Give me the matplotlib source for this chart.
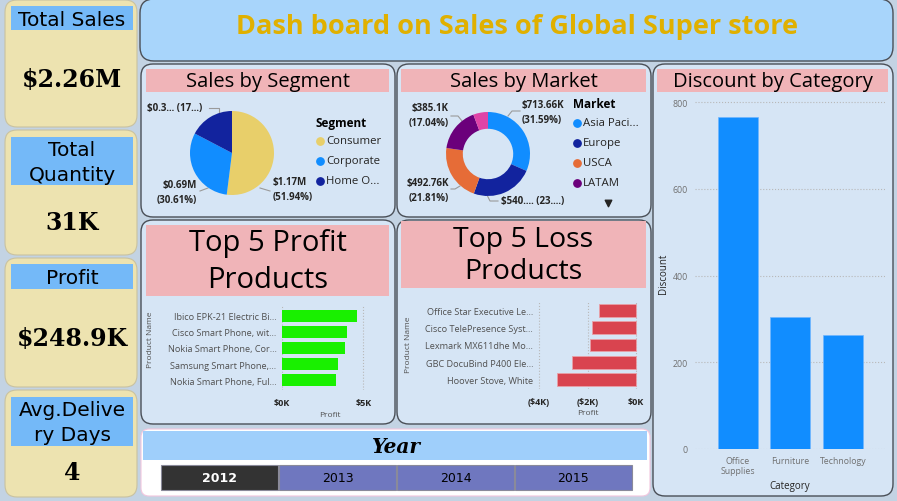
import matplotlib
matplotlib.use("Agg")
import matplotlib.pyplot as plt
import matplotlib.patches as mpatches
import numpy as np

W, H = 897, 502
SANS = "Open Sans"

# --- datos ---
kpi_titles = [["Total Sales"], ["Total", "Quantity"], ["Profit"], ["Avg.Delive", "ry Days"]]
kpi_values = ["$2.26M", "31K", "$248.9K", "4"]

seg_names = ["Consumer", "Corporate", "Home O..."]
seg_sales = [1.17, 0.69, 0.39]          # $M
seg_labels = ["$1.17M\n(51.94%)", "$0.69M\n(30.61%)", "$0.3... (17...)"]

mkt_names = ["Asia Paci...", "Europe", "USCA", "LATAM", "Africa"]
mkt_sales = [713.66, 540.0, 492.76, 385.1, 128.0]   # $K
mkt_labels = ["$713.66K\n(31.59%)", "$540.... (23....)", "$492.76K\n(21.81%)",
              "$385.1K\n(17.04%)", ""]

top_products = ["Ibico EPK-21 Electric Bi...", "Cisco Smart Phone, wit...",
                "Nokia Smart Phone, Cor...", "Samsung Smart Phone,...",
                "Nokia Smart Phone, Ful..."]
top_profit = [4.63, 4.03, 3.85, 3.42, 3.34]   # $K

loss_products = ["Office Star Executive Le...", "Cisco TelePresence Syst...",
                 "Lexmark MX611dhe Mo...", "GBC DocuBind P400 Ele...",
                 "Hoover Stove, White"]
loss_profit = [-1.53, -1.81, -1.88, -2.65, -3.25]   # $K

categories = ["Office\nSupplies", "Furniture", "Technology"]
discount = [767, 305, 263]

years = ["2012", "2013", "2014", "2015"]

# --- colores ---
BG = "#c3d3e3"
PANEL = "#d6e5f5"
EDGE = "#4a4f57"
PINK = "#f0b4b8"
CARD = "#ede3b0"
CARD_HEAD = "#74b9f8"
SEG_COLORS = ["#e8cf6a", "#118dff", "#12239e"]
MKT_COLORS = ["#118dff", "#12239e", "#e66c37", "#6b007b", "#e044a7"]
GREEN = "#19f000"
RED = "#d9444f"
BLUE = "#118dff"

fig = plt.figure(figsize=(W / 100, H / 100), dpi=100)
fig.patch.set_facecolor(BG)
bg = fig.add_axes([0, 0, 1, 1])
bg.set_xlim(0, W); bg.set_ylim(H, 0)
bg.axis("off")


def box(x0, y0, x1, y1, fc, ec="none", lw=1.0, r=10, z=1):
    p = mpatches.FancyBboxPatch((x0, y0), x1 - x0, y1 - y0,
                                boxstyle=f"round,pad=0,rounding_size={r}",
                                fc=fc, ec=ec, lw=lw, zorder=z)
    bg.add_patch(p)


def rect(x0, y0, x1, y1, fc, ec="none", lw=1.0, z=2):
    bg.add_patch(mpatches.Rectangle((x0, y0), x1 - x0, y1 - y0,
                                    fc=fc, ec=ec, lw=lw, zorder=z))


def px_axes(x0, y0, x1, y1):
    return fig.add_axes([x0 / W, 1 - y1 / H, (x1 - x0) / W, (y1 - y0) / H])


# --- tarjetas KPI ---
cards = [(1, 128, 7, 31, 80), (131, 256, 138, 186, 223),
         (259, 388, 265, 290, 339), (391, 498, 398, 447, 473)]
for (cy0, cy1, hy0, hy1, vy), lines, v in zip(cards, kpi_titles, kpi_values):
    box(5, cy0, 137, cy1, CARD, ec="#c9c2a0", lw=0.8, r=12)
    rect(11, hy0, 133, hy1, CARD_HEAD, z=3)
    step = 25
    y_first = (hy0 + hy1) / 2 - step * (len(lines) - 1) / 2
    for k, t in enumerate(lines):
        bg.text(72, y_first + k * step + 1, t, ha="center", va="center",
                fontsize=14.5, family="DejaVu Sans", zorder=4)
    bg.text(72, vy, v, ha="center", va="center", fontsize=17,
            family="DejaVu Serif", fontweight="bold", zorder=4)

# --- título ---
box(140, 0, 893, 62, "#a8d5fb", ec=EDGE, lw=1.0, r=14)
bg.text(517, 27, "Dash board on Sales of Global Super store", ha="center",
        va="center", fontsize=19.5, family=SANS, color="#e0b000",
        fontweight="bold", zorder=4)

# --- paneles ---
panels = [(141, 65, 395, 218), (397, 65, 651, 218), (653, 65, 893, 497),
          (141, 221, 395, 425), (397, 221, 651, 425)]
for x0, y0, x1, y1 in panels:
    box(x0, y0, x1, y1, PANEL, ec=EDGE, lw=1.0, r=12)

titles = [(146, 70, 389, 93, ["Sales by Segment"], 14.5, 0),
          (401, 70, 646, 93, ["Sales by Market"], 14.5, 0),
          (657, 70, 888, 93, ["Discount by Category"], 14.5, 0),
          (146, 226, 389, 297, ["Top 5 Profit", "Products"], 21, 37),
          (401, 222, 646, 289, ["Top 5 Loss", "Products"], 20.5, 32)]
for x0, y0, x1, y1, lines, fs, step in titles:
    rect(x0, y0, x1, y1, PINK, z=3)
    y_first = (y0 + y1) / 2 - step * (len(lines) - 1) / 2
    for k, t in enumerate(lines):
        bg.text((x0 + x1) / 2, y_first + k * step + 1, t, ha="center",
                va="center", fontsize=fs, family=SANS, zorder=4)

# --- Sales by Segment (pie) ---
R = 42.0
cx, cy = 232, 154
ax = px_axes(141, 95, 320, 217)
ax.pie(seg_sales, colors=SEG_COLORS, startangle=90, counterclock=False,
       radius=1, wedgeprops=dict(linewidth=0))
ax.set_xlim((141 - cx) / R, (320 - cx) / R)
ax.set_ylim((cy - 217) / R, (cy - 95) / R)
ax.axis("off")

lab_kw = dict(fontsize=7, family=SANS, fontweight="bold", color="#252423",
              zorder=5)
bg.text(273, 190, seg_labels[0], ha="left", va="center", linespacing=1.5, **lab_kw)
bg.text(197, 193, seg_labels[1], ha="right", va="center", linespacing=1.5, **lab_kw)
bg.text(147, 108, seg_labels[2], ha="left", va="center", **lab_kw)
bg.plot([260, 270], [189, 192], color="#9a9a9a", lw=0.8, zorder=5)
bg.plot([208, 200], [189, 192], color="#9a9a9a", lw=0.8, zorder=5)
bg.plot([219, 219, 209], [114, 109, 109], color="#9a9a9a", lw=0.8, zorder=5)

bg.text(316, 124, "Segment", ha="left", va="center", fontsize=8.5,
        family=SANS, fontweight="bold", zorder=5)
for i, (n, c) in enumerate(zip(seg_names, SEG_COLORS)):
    yy = 142 + 20 * i
    bg.scatter([320], [yy], s=28, color=c, zorder=5)
    bg.text(326, yy, n, ha="left", va="center", fontsize=8.2, family=SANS,
            color="#252423", zorder=5)

# --- Sales by Market (donut) ---
cx, cy = 488, 155
ax = px_axes(400, 95, 570, 217)
ax.pie(mkt_sales, colors=MKT_COLORS, startangle=90, counterclock=False,
       radius=1, wedgeprops=dict(width=0.4, linewidth=0))
ax.set_xlim((400 - cx) / R, (570 - cx) / R)
ax.set_ylim((cy - 217) / R, (cy - 95) / R)
ax.axis("off")

bg.text(522, 113, mkt_labels[0], ha="left", va="center", linespacing=1.5, **lab_kw)
bg.text(501, 202, mkt_labels[1], ha="left", va="center", **lab_kw)
bg.text(449, 191, mkt_labels[2], ha="right", va="center", linespacing=1.5, **lab_kw)
bg.text(449, 116, mkt_labels[3], ha="right", va="center", linespacing=1.5, **lab_kw)
bg.plot([508, 512, 520], [117, 112, 112], color="#9a9a9a", lw=0.8, zorder=5)
bg.plot([487, 490, 498], [196, 202, 202], color="#9a9a9a", lw=0.8, zorder=5)
bg.plot([460, 455, 451], [187, 190, 190], color="#9a9a9a", lw=0.8, zorder=5)
bg.plot([462, 458, 451], [122, 117, 117], color="#9a9a9a", lw=0.8, zorder=5)

bg.text(573, 105, "Market", ha="left", va="center", fontsize=8.5,
        family=SANS, fontweight="bold", zorder=5)
for i, (n, c) in enumerate(zip(mkt_names[:4], MKT_COLORS[:4])):
    yy = 124 + 20 * i
    bg.scatter([577], [yy], s=28, color=c, zorder=5)
    bg.text(583, yy, n, ha="left", va="center", fontsize=8.2, family=SANS,
            color="#252423", zorder=5)
bg.scatter([608], [204], marker="v", s=22, color="#252423", zorder=5)


def style_bar_axes(ax):
    ax.set_facecolor("none")
    for s in ax.spines.values():
        s.set_visible(False)
    ax.tick_params(length=0)


# --- Top 5 Profit ---
ax = px_axes(282, 307, 373, 391)
ypos = np.arange(len(top_products))
ax.barh(ypos, top_profit, height=0.75, color=GREEN)
ax.set_xlim(0, 5.6)
ax.set_ylim(len(top_products) - 0.5 + 0.1, -0.5 - 0.1)
ax.set_yticks(ypos, top_products, fontsize=6.6, family=SANS, color="#505050")
ax.set_xticks([0, 5], ["$0K", "$5K"], fontsize=6.5, family=SANS,
              fontweight="bold", color="#252423")
ax.grid(axis="x", linestyle=":", color="#b8b8b8", lw=0.8)
ax.set_axisbelow(True)
style_bar_axes(ax)
ax.tick_params(axis="x", pad=6)
ax.tick_params(axis="y", pad=4)
bg.text(330, 416, "Profit", ha="center", va="center", fontsize=6,
        family=SANS, color="#505050", zorder=5)
bg.text(150, 340, "Product Name", ha="center", va="center", fontsize=6,
        family=SANS, color="#505050", rotation=90, zorder=5)

# --- Top 5 Loss ---
ax = px_axes(536, 302, 642, 390)
ax.barh(ypos, loss_profit, height=0.73, color=RED, ec="#e8a0a8", lw=0.6)
ax.set_xlim(-(636 - 536) / 24.25, (642 - 636) / 24.25)
ax.set_ylim(len(loss_products) - 0.5 + 0.05, -0.5 - 0.05)
ax.set_yticks(ypos, loss_products, fontsize=6.6, family=SANS, color="#505050")
ax.set_xticks([-4, -2, 0], ["($4K)", "($2K)", "$0K"], fontsize=6.5, family=SANS,
              fontweight="bold", color="#252423")
ax.grid(axis="x", linestyle=":", color="#b8b8b8", lw=0.8)
ax.set_axisbelow(True)
style_bar_axes(ax)
ax.tick_params(axis="x", pad=6)
ax.tick_params(axis="y", pad=2)
bg.text(588, 414, "Profit", ha="center", va="center", fontsize=6,
        family=SANS, color="#505050", zorder=5)
bg.text(408, 345, "Product Name", ha="center", va="center", fontsize=6,
        family=SANS, color="#505050", rotation=90, zorder=5)

# --- Discount by Category ---
ax = px_axes(695, 97, 885, 450)
xpos = np.arange(len(categories))
ax.bar(xpos, discount, width=0.76, color=BLUE, ec="#6fb6ff", lw=0.5)
ax.set_xlim(-0.81, 2.8)
ax.set_ylim(0, 800 * (450 - 97) / 346.7)
ax.set_yticks([0, 200, 400, 600, 800])
ax.set_yticklabels(["0", "200", "400", "600", "800"], fontsize=6.3,
                   family=SANS, color="#707070")
ax.set_xticks(xpos, categories, fontsize=6.3, family=SANS, color="#707070",
              linespacing=1.1)
ax.grid(axis="y", linestyle=":", color="#b8b8b8", lw=0.8)
ax.set_axisbelow(True)
style_bar_axes(ax)
ax.tick_params(axis="y", pad=5)
ax.tick_params(axis="x", pad=5)
ax.set_xlabel("Category", fontsize=7, family=SANS, color="#252423", labelpad=4)
ax.set_ylabel("Discount", fontsize=7, family=SANS, color="#252423", labelpad=3)

# --- slicer de año ---
box(141, 430, 650, 497, "white", ec="#f2c6de", lw=0.8, r=8)
rect(143, 432, 647, 461, "#9fcffb", z=3)
bg.text(396, 447, "Year", ha="center", va="center", fontsize=14.5,
        family="DejaVu Serif", fontweight="bold", style="italic", zorder=4)
for i, y in enumerate(years):
    x0 = 161 + 118 * i
    fc = "#333333" if i == 0 else "#6f77bf"
    tc = "white" if i == 0 else "black"
    rect(x0, 466, x0 + 117, 491, fc, ec="#8a8a9a", lw=0.8, z=3)
    bg.text(x0 + 58.5, 478.5, y, ha="center", va="center", fontsize=9,
            family="DejaVu Sans", fontweight="bold" if i == 0 else "normal",
            color=tc, zorder=4)

fig.savefig("out.png", dpi=100, facecolor=fig.get_facecolor())
